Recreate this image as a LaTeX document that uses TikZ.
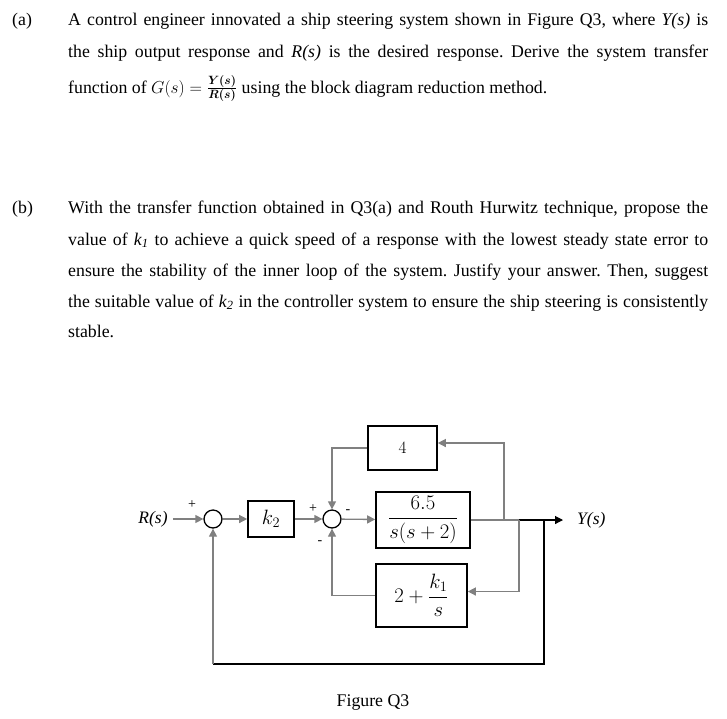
\documentclass[tikz,border=0pt]{standalone}
\usepackage{amsmath,bm}
\usepackage{fontspec}
\setmainfont{Liberation Serif}
\usetikzlibrary{arrows.meta,calc}
\frenchspacing
\begin{document}
\begin{tikzpicture}[x=1pt,y=-1pt,
  txt/.style={anchor=base west,inner sep=0pt,font=\fontsize{17.8}{20}\selectfont\frenchspacing},
  blk/.style={draw=black,line width=1.6pt,inner sep=0pt,fill=white},
  sumc/.style={draw=black,circle,line width=1.3pt,minimum size=18pt,inner sep=0pt},
  conn/.style={draw=gray,line width=1.3pt},
  conb/.style={draw=black,line width=1.1pt},
  arr/.style={-{Triangle[length=8pt,width=8pt]}},
  sgn/.style={inner sep=0pt,font=\fontsize{14}{14}\selectfont},
  lbl/.style={inner sep=0pt,font=\fontsize{17.5}{17.5}\selectfont\itshape},
  mth/.style={font=\fontsize{20}{20}\selectfont}]
\useasboundingbox (0,0) rectangle (727,718);
% ---------- text (a)
\node[txt] (la) at (12,25) {(a)};
\node[txt] (a1) at (68,25) {\hbox to 640pt{A control engineer innovated a ship steering system shown in Figure Q3, where \textit{Y(s)} is}};
\node[txt] (a2) at (68,57) {\hbox to 640pt{the ship output response and \textit{R(s)} is the desired response. Derive the system transfer}};
\node[txt] (a3) at (68,93) {function of $G(s)=\frac{\bm{Y(s)}}{\bm{R(s)}}$ using the block diagram reduction method.};
% ---------- text (b)
\node[txt] (lb) at (12,213) {(b)};
\node[txt] (b1) at (68,213) {\hbox to 640pt{With the transfer function obtained in Q3(a) and Routh Hurwitz technique, propose the}};
\node[txt] (b2) at (68,245) {\hbox to 640pt{value of \textit{k\textsubscript{1}} to achieve a quick speed of a response with the lowest steady state error to}};
\node[txt] (b3) at (68,276) {\hbox to 640pt{ensure the stability of the inner loop of the system. Justify your answer. Then, suggest}};
\node[txt] (b4) at (68,307) {\hbox to 640pt{the suitable value of \textit{k\textsubscript{2}} in the controller system to ensure the ship steering is consistently}};
\node[txt] (b5) at (68,337) {stable.};
% ---------- diagram
\node[lbl] (R) at (153,519) {R(s)};
\node[sumc] (s1) at (213,519) {};
\node[blk,mth,minimum width=46pt,minimum height=36pt] (k2) at (271,519) {$k_2$};
\node[sumc] (s2) at (332,519) {};
\node[blk,font=\fontsize{18}{18}\selectfont,minimum width=69pt,minimum height=44pt] (f4) at (402.5,448) {$4$};
\node[blk,mth,minimum width=94pt,minimum height=56pt] (G) at (423,520) {$\dfrac{6.5}{s(s+2)}$};
\node[blk,mth,minimum width=91pt,minimum height=63pt] (H) at (421.5,595.5) {$2+\dfrac{k_1}{s}$};
\node[lbl,anchor=west] (Y) at (577,520) {Y(s)};
\coordinate (p1) at (504,520);
\coordinate (p2) at (519,520);
\coordinate (p3) at (544,520);
\coordinate (bl) at (213,664);
% signs
\node[sgn] (sg1) at (192,505) {+};
\node[sgn] (sg2) at (313,509) {+};
\node[sgn] (sg3) at (348,512) {-};
\node[sgn] (sg4) at (320,543) {-};
% connectors
\draw[conn,arr,shorten <=5pt] (R) -- (s1);
\draw[conn,arr] (s1) -- (k2);
\draw[conn,arr] (k2) -- (s2);
\draw[conn,arr] (s2) -- (G);
\draw[conn] (G.east) -- (p2);
\draw[conb,arr,shorten >=14pt] (p2) -- (Y.west);
\draw[conn,arr] (p1) |- ([yshift=5pt]f4.east);
\draw[conn,arr] (f4.west) -| (s2.north);
\draw[conn,arr] (p2) |- ([yshift=4pt]H.east);
\draw[conn,arr] (H.west) -| (s2.south);
\draw[conb] (p3) -- (p3 |- bl) -- (bl);
\draw[conn,arr] (bl) -- (s1.south);
\node[inner sep=0pt,font=\fontsize{17.8}{17.8}\selectfont] (cap) at (373,703) {Figure Q3};
\end{tikzpicture}
\end{document}
